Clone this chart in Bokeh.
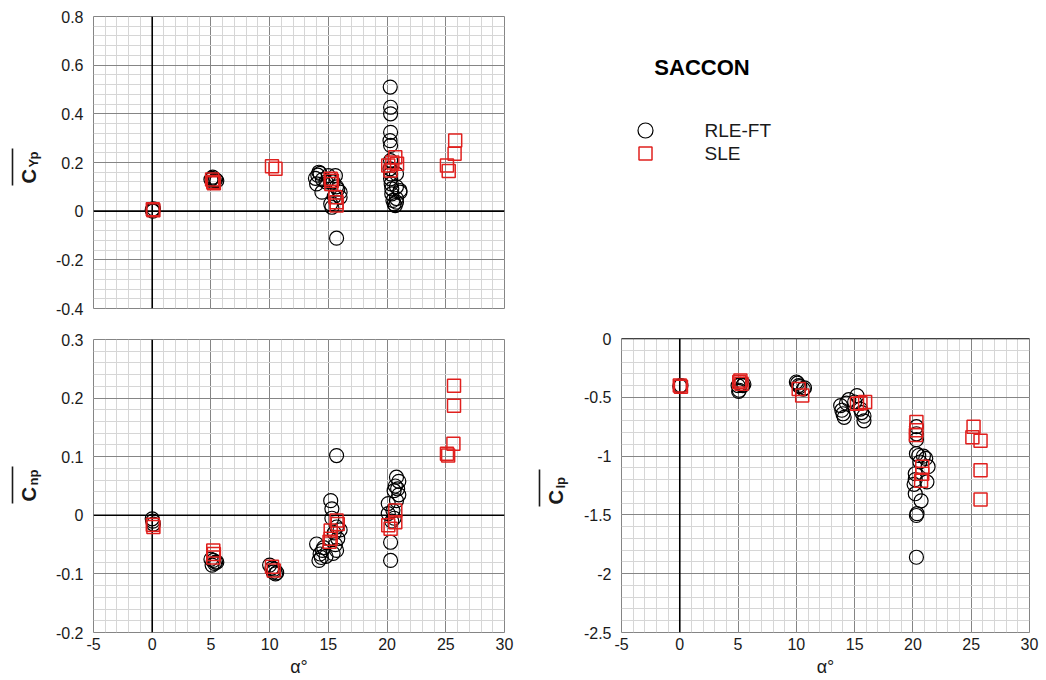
import numpy as np
from bokeh.plotting import figure
from bokeh.layouts import row, column
from bokeh.models import Range1d, FixedTicker, Span, Label, CustomJSTickFormatter
from bokeh.core.properties import value
from bokeh.embed import file_html
from bokeh.resources import INLINE

# ---------------------------------------------------------------- data
# angle of attack ticks and coefficient ticks
alpha_ticks = [-5, 0, 5, 10, 15, 20, 25, 30]
cyp_ticks = [-0.4, -0.2, 0, 0.2, 0.4, 0.6, 0.8]
cnp_ticks = [-0.2, -0.1, 0, 0.1, 0.2, 0.3]
clp_ticks = [-2.5, -2, -1.5, -1, -0.5, 0]

series_names = ["RLE-FT", "SLE"]
chart_title = "SACCON"
coef_subscripts = ["Yp", "np", "lp"]

# side-force derivative C_Yp
cyp_rle_alpha = [0.0, 0.05, 0.1,
                 5.0, 5.1, 5.2, 5.3, 5.4, 5.5, 5.15,
                 14.2, 14.3, 13.9, 14.0, 14.1, 14.45, 14.5, 14.8, 15.0, 15.2, 15.3, 15.6,
                 15.7, 15.4, 16.0, 16.0, 15.8, 15.7, 15.5,
                 20.27, 20.3, 20.3, 20.3, 20.25, 20.3, 20.3, 20.25, 20.3, 20.3, 20.35,
                 20.4, 20.4, 20.5, 20.6, 20.8, 20.8, 20.8, 21.1, 21.1, 20.8, 20.7]
cyp_rle = [0.005, 0.0, 0.01,
           0.13, 0.135, 0.12, 0.125, 0.13, 0.125, 0.14,
           0.16, 0.155, 0.135, 0.112, 0.148, 0.078, 0.13, 0.12, 0.146, 0.03, 0.016, 0.146,
           0.10, 0.12, 0.078, 0.057, 0.09, -0.111, 0.06,
           0.51, 0.427, 0.40, 0.324, 0.29, 0.27, 0.208, 0.174, 0.153, 0.133, 0.112,
           0.092, 0.071, 0.044, 0.03, 0.153, 0.10, 0.052, 0.078, 0.085, 0.037, 0.023]
cyp_sle_alpha = [0.05, 0.1, 5.1, 5.2, 5.25, 10.2, 10.5,
                 15.2, 15.25, 15.3, 15.6, 15.7, 15.7,
                 20.1, 20.3, 20.45, 20.7, 20.85,
                 25.1, 25.25, 25.8, 25.75]
cyp_sle = [0.008, 0.004, 0.13, 0.12, 0.115, 0.185, 0.174,
           0.133, 0.112, 0.125, 0.057, 0.037, 0.023,
           0.188, 0.167, 0.20, 0.222, 0.195,
           0.188, 0.165, 0.29, 0.236]

# yawing-moment derivative C_np
cnp_rle_alpha = [0.0, 0.05, 0.1,
                 5.0, 5.2, 5.3, 5.4, 5.5, 5.1,
                 10.0, 10.2, 10.3, 10.5, 10.6, 10.4,
                 14.0, 14.3, 14.2, 14.4, 14.5, 14.6, 14.8, 15.2, 15.3, 15.3, 15.7, 15.7,
                 15.8, 15.7, 15.5, 15.6, 15.4, 16.0,
                 20.3, 20.3, 20.1, 20.1, 20.8, 21.0, 20.7, 20.6, 20.8, 20.4, 20.9, 21.0,
                 20.5, 20.6]
cnp_rle = [-0.006, -0.01, -0.015,
           -0.075, -0.077, -0.082, -0.08, -0.08, -0.085,
           -0.085, -0.09, -0.097, -0.1, -0.098, -0.092,
           -0.049, -0.066, -0.077, -0.072, -0.06, -0.055, -0.07, 0.025, 0.011, -0.005, 0.102,
           -0.02, -0.04, -0.06, -0.03, -0.05, -0.065, -0.025,
           -0.077, -0.046, 0.02, 0.003, 0.065, 0.058, 0.05, 0.042, 0.025, -0.01, 0.045, 0.035,
           0.008, -0.005]
cnp_sle_alpha = [0.05, 0.1, 5.2, 5.25, 5.2, 10.2, 10.35,
                 15.7, 15.8, 15.2, 15.2, 15.1,
                 20.1, 20.7, 20.7, 20.3,
                 25.2, 25.1, 25.65, 25.7, 25.7]
cnp_sle = [-0.016, -0.02, -0.06, -0.066, -0.072, -0.088, -0.094,
           -0.009, -0.015, -0.026, -0.04, -0.045,
           -0.017, 0.008, -0.012, -0.023,
           0.102, 0.105, 0.122, 0.187, 0.221]

# rolling-moment derivative C_lp
clp_rle_alpha = [0.0, 0.1,
                 5.0, 5.1, 5.2, 5.4, 5.05, 5.5,
                 10.0, 10.1, 10.3, 10.6, 10.2, 10.7,
                 13.8, 13.9, 14.0, 14.1, 14.3, 14.5, 15.2, 15.0, 15.5, 15.8, 15.8, 15.6,
                 20.3, 20.3, 20.35, 20.2, 20.1, 20.7, 20.2, 20.5, 21.1, 21.3, 21.2, 20.3,
                 20.3, 20.3, 20.3, 20.6, 20.9, 20.2]
clp_rle = [-0.405, -0.40,
           -0.40, -0.44, -0.39, -0.40, -0.45, -0.39,
           -0.37, -0.38, -0.41, -0.43, -0.40, -0.42,
           -0.57, -0.61, -0.64, -0.67, -0.55, -0.52, -0.485, -0.54, -0.60, -0.70, -0.66, -0.63,
           -1.86, -1.505, -1.49, -1.32, -1.24, -1.38, -1.15, -0.995, -1.02, -1.09, -1.22, -0.98,
           -0.81, -0.75, -0.86, -1.05, -1.00, -1.20]
clp_sle_alpha = [0.0, 0.1, 5.2, 5.3, 5.1, 10.2, 10.5,
                 15.2, 15.9, 15.5,
                 20.3, 20.3, 20.25, 20.8, 20.8, 20.7,
                 25.2, 25.1, 25.8, 25.8, 25.8]
clp_sle = [-0.40, -0.41, -0.357, -0.385, -0.37, -0.43, -0.485,
           -0.555, -0.54, -0.55,
           -0.71, -0.78, -0.82, -1.09, -1.15, -1.21,
           -0.75, -0.84, -0.87, -1.12, -1.37]

# ---------------------------------------------------------------- style
FONT = "Liberation Sans"
RED = "#e0201e"
MAJOR = "#858585"
MINOR = "#d6d6d6"
TEXT = "#1a1a1a"
PAGE_H = 680
STRIP_L = 45     # width of the title strip left of the C_Yp / C_np panels
STRIP_R = 54     # width of the title strip left of the C_lp panel

fmt = CustomJSTickFormatter(code="return String(Number(tick.toFixed(3)));")


def minor_ticks(major, step):
    lo, hi = min(major), max(major)
    n = int(round((hi - lo) / step))
    return [round(lo + i * step, 4) for i in range(n + 1)]


def make_panel(width, height, frame, y_ticks, y_step, show_x):
    left, right, top, bottom = frame
    p = figure(width=width, height=height,
               x_range=Range1d(alpha_ticks[0], alpha_ticks[-1]),
               y_range=Range1d(y_ticks[0], y_ticks[-1]),
               output_backend="svg", toolbar_location=None,
               min_border_left=left, min_border_right=right,
               min_border_top=top, min_border_bottom=bottom)
    p.background_fill_color = "white"
    p.border_fill_color = "white"
    p.outline_line_color = MAJOR
    p.outline_line_width = 1

    p.xaxis.ticker = FixedTicker(ticks=alpha_ticks, minor_ticks=minor_ticks(alpha_ticks, 1))
    p.yaxis.ticker = FixedTicker(ticks=y_ticks, minor_ticks=minor_ticks(y_ticks, y_step))
    p.xgrid.ticker = p.xaxis.ticker
    p.ygrid.ticker = p.yaxis.ticker
    for g in (p.xgrid, p.ygrid):
        g.grid_line_color = MAJOR
        g.grid_line_width = 1
        g.minor_grid_line_color = MINOR
        g.minor_grid_line_width = 1

    for ax in p.axis:
        ax.formatter = fmt
        ax.axis_line_color = None
        ax.major_tick_line_color = None
        ax.minor_tick_line_color = None
        ax.major_tick_out = 0
        ax.major_tick_in = 0
        ax.minor_tick_out = 0
        ax.minor_tick_in = 0
        ax.major_label_text_font = FONT
        ax.major_label_text_font_size = "16px"
        ax.major_label_text_color = TEXT
    p.yaxis.major_label_standoff = 10
    if show_x:
        p.xaxis.major_label_standoff = 5
        p.xaxis.axis_label = "α°"
        p.xaxis.axis_label_text_font = FONT
        p.xaxis.axis_label_text_font_style = "normal"
        p.xaxis.axis_label_text_font_size = "18px"
        p.xaxis.axis_label_text_color = TEXT
        p.xaxis.axis_label_standoff = 4
    else:
        p.xaxis.visible = False

    for dim in ("width", "height"):
        p.add_layout(Span(location=0, dimension=dim, line_color="black",
                          line_width=1.6, level="underlay"))
    return p


def draw_series(p, xa, ya, xb, yb):
    p.scatter(xa, ya, marker="circle", size=14, fill_color=None,
              line_color="black", line_width=1.2)
    p.scatter(xb, yb, marker="square", size=13, fill_color=None,
              line_color=RED, line_width=1.5)


def label_strip(width, entries):
    """Narrow panel holding the rotated, overlined C_xx axis titles.

    entries: (subscript, x of the overline, vertical centre measured from the top)
    """
    s = figure(width=width, height=PAGE_H, x_range=Range1d(0, width),
               y_range=Range1d(0, PAGE_H), x_axis_type=None, y_axis_type=None,
               output_backend="svg", toolbar_location=None, min_border=0)
    s.outline_line_color = None
    s.background_fill_color = "white"
    s.border_fill_color = "white"
    for sub, x0, yc in entries:
        s.segment(x0, PAGE_H - (yc - 18), x0, PAGE_H - (yc + 19),
                  line_color=TEXT, line_width=1.6)
        s.text([x0 + 16], [PAGE_H - (yc + 17)], text=["C"], angle=np.pi / 2,
               text_font=value(FONT), text_font_style="bold", text_font_size="20px",
               text_align="left", text_baseline="alphabetic", text_color=TEXT)
        s.text([x0 + 21], [PAGE_H - (yc + 1)], text=[sub], angle=np.pi / 2,
               text_font=value(FONT), text_font_style="bold", text_font_size="13px",
               text_align="left", text_baseline="alphabetic", text_color=TEXT)
    return s


# ---------------------------------------------------------------- panels
p_cy = make_panel(520 - STRIP_L, 320, (93 - STRIP_L, 16, 16, 12), cyp_ticks, 0.04, False)
draw_series(p_cy, cyp_rle_alpha, cyp_rle, cyp_sle_alpha, cyp_sle)

p_cn = make_panel(520 - STRIP_L, 360, (93 - STRIP_L, 16, 19, 48), cnp_ticks, 0.02, True)
draw_series(p_cn, cnp_rle_alpha, cnp_rle, cnp_sle_alpha, cnp_sle)

p_cl = make_panel(526 - STRIP_R, 360, (101 - STRIP_R, 17, 18, 48), clp_ticks, 0.1, True)
draw_series(p_cl, clp_rle_alpha, clp_rle, clp_sle_alpha, clp_sle)

strip_left = label_strip(STRIP_L, [(coef_subscripts[0], 12, 166),
                                   (coef_subscripts[1], 12, 484)])
strip_right = label_strip(STRIP_R, [(coef_subscripts[2], 19, 487)])

# key panel with the title and the legend (frame lines up with the C_lp panel)
p_key = figure(width=526 - STRIP_R, height=320, x_range=Range1d(0, 408),
               y_range=Range1d(320, 0), x_axis_type=None, y_axis_type=None,
               output_backend="svg", toolbar_location=None,
               min_border_left=101 - STRIP_R, min_border_right=17,
               min_border_top=0, min_border_bottom=0)
p_key.outline_line_color = None
p_key.add_layout(Label(x=80.5, y=67, text=chart_title, text_align="center",
                       text_baseline="middle", text_font=FONT, text_font_style="bold",
                       text_font_size="22px", text_color="black"))
key_y = [130, 153]
p_key.scatter([24], [key_y[0]], marker="circle", size=15, fill_color=None,
              line_color="black", line_width=1.2)
p_key.scatter([24], [key_y[1]], marker="square", size=13, fill_color=None,
              line_color=RED, line_width=1.5)
p_key.text([83, 83], key_y, text=series_names, text_font=value(FONT),
           text_font_size="19px", text_align="left", text_baseline="middle",
           text_color=TEXT)

layout = row(strip_left, column(p_cy, p_cn), strip_right, column(p_key, p_cl))

with open("out.html", "w") as f:
    f.write(file_html(layout, INLINE))
